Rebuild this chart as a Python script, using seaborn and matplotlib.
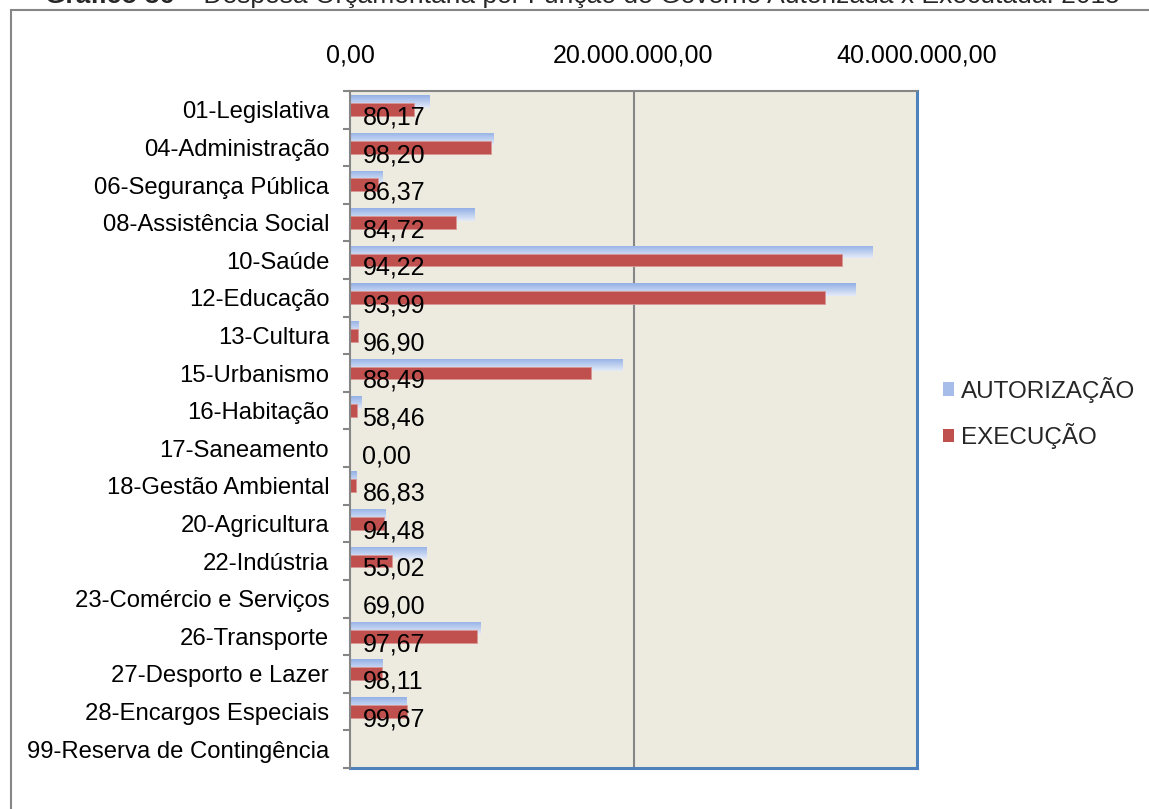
import numpy as np
import pandas as pd
import matplotlib
matplotlib.use("Agg")
import matplotlib.pyplot as plt
import seaborn as sns
from matplotlib.patches import Patch, Rectangle
from matplotlib.ticker import FuncFormatter, FixedLocator
from matplotlib.colors import LinearSegmentedColormap

# ---------------- data ----------------
funcoes = ["01-Legislativa", "04-Administração", "06-Segurança Pública",
           "08-Assistência Social", "10-Saúde", "12-Educação", "13-Cultura",
           "15-Urbanismo", "16-Habitação", "17-Saneamento",
           "18-Gestão Ambiental", "20-Agricultura", "22-Indústria",
           "23-Comércio e Serviços", "26-Transporte", "27-Desporto e Lazer",
           "28-Encargos Especiais", "99-Reserva de Contingência"]
autorizacao = [5.59e6, 10.15e6, 2.32e6, 8.80e6, 36.84e6, 35.65e6, 0.565e6,
               19.20e6, 0.83e6, 0.02e6, 0.48e6, 2.53e6, 5.37e6, 0.03e6,
               9.18e6, 2.27e6, 4.02e6, 0.0]
execucao = [4.48e6, 9.97e6, 2.00e6, 7.46e6, 34.71e6, 33.51e6, 0.547e6,
            16.99e6, 0.485e6, 0.0, 0.417e6, 2.39e6, 2.955e6, 0.0207e6,
            8.97e6, 2.23e6, 4.01e6, 0.0]
percentuais = ["80,17", "98,20", "86,37", "84,72", "94,22", "93,99", "96,90",
               "88,49", "58,46", "0,00", "86,83", "94,48", "55,02", "69,00",
               "97,67", "98,11", "99,67", ""]
series = ["AUTORIZAÇÃO", "EXECUÇÃO"]
xticks = [0, 20e6, 40e6]
titulo_bold = "Gráfico 36"
titulo_resto = " – Despesa Orçamentária por Função de Governo Autorizada x Executada: 2015"

# ---------------- style ----------------
sns.set_style("white")
plt.rcParams['font.family'] = ['Liberation Sans', 'DejaVu Sans']

W, H = 1149, 809
fig = plt.figure(figsize=(W / 100, H / 100), dpi=100)
fig.patch.set_facecolor("white")

left, right, top, bottom = 350, 917, 91, 768
ax = fig.add_axes([left / W, (H - bottom) / H, (right - left) / W, (bottom - top) / H])
ax.set_facecolor("#EDEBE0")

df = pd.DataFrame({
    "Função": funcoes * 2,
    "Tipo": [series[0]] * len(funcoes) + [series[1]] * len(funcoes),
    "Valor": autorizacao + execucao,
})

blue_flat = "#A6BDE9"
red = "#C0504D"
sns.barplot(data=df, y="Função", x="Valor", hue="Tipo", hue_order=series,
            order=funcoes, orient="h", palette=[blue_flat, red], dodge=True,
            width=0.8, legend=False, ax=ax, linewidth=0, saturation=1)

# re-position bars (overlapping like the original)
blue_cont, red_cont = ax.containers[0], ax.containers[1]
cmap = LinearSegmentedColormap.from_list("g", ["#93B0E6", "#E4EBF8"])
grad = np.linspace(0, 1, 64).reshape(-1, 1)
for i, p in enumerate(blue_cont):
    p.set_y(i - 0.385)
    p.set_height(0.33)
    p.set_zorder(2)
    p.set_facecolor("none")
    x0, w = p.get_x(), p.get_width()
    if w > 0:
        im = ax.imshow(grad, extent=(x0, x0 + w, i - 0.385 + 0.33, i - 0.385),
                       origin="upper", aspect="auto", cmap=cmap, zorder=2,
                       interpolation="bilinear")
        im.set_clip_path(p)
for i, p in enumerate(red_cont):
    p.set_y(i - 0.175)
    p.set_height(0.34)
    p.set_zorder(3)
    p.set_edgecolor("#D99694")
    p.set_linewidth(0.6)

ax.set_xlim(0, 40e6)
ax.set_ylim(len(funcoes) - 0.5, -0.5)

# value labels
for i, txt in enumerate(percentuais):
    if txt:
        ax.text(0.022, i + 0.205, txt, transform=ax.get_yaxis_transform(),
                fontsize=18, va="center", ha="left", color="black", zorder=5)

# x axis on top
ax.xaxis.tick_top()
ax.xaxis.set_major_locator(FixedLocator(xticks))
ax.xaxis.set_major_formatter(FuncFormatter(
    lambda v, pos: f"{v:,.2f}".replace(",", "X").replace(".", ",").replace("X", ".")))
ax.tick_params(axis="x", which="both", length=0, pad=17, labelsize=18, colors="black")
ax.set_xlabel("")
ax.set_ylabel("")

# vertical gridline at 20M
ax.axvline(20e6, color="#868686", lw=1.5, zorder=1)

# y ticks
ax.yaxis.set_major_locator(FixedLocator(range(len(funcoes))))
ax.set_yticklabels(funcoes)
ax.yaxis.set_minor_locator(FixedLocator(np.arange(-0.5, len(funcoes), 1.0)))
ax.tick_params(axis="y", which="major", length=0, pad=15, labelsize=17.2, colors="black")
ax.tick_params(axis="y", which="minor", length=5, width=1.5, color="#868686", direction="out", left=True)

for s in ["left", "top"]:
    ax.spines[s].set_color("#868686")
    ax.spines[s].set_linewidth(1.5)
for s in ["right", "bottom"]:
    ax.spines[s].set_color("#4F81BD")
    ax.spines[s].set_linewidth(2.2)
    ax.spines[s].set_visible(True)
ax.spines["left"].set_zorder(6)

# legend
handles = [Patch(facecolor=blue_flat, edgecolor="none", label=series[0]),
           Patch(facecolor=red, edgecolor="none", label=series[1])]
fig.legend(handles=handles, loc="center left", bbox_to_anchor=(943 / W, 1 - 413 / H),
           frameon=False, fontsize=17.5, handlelength=0.45, handleheight=0.45,
           handletextpad=0.3, labelspacing=0.85, borderaxespad=0, borderpad=0)

# outer border
fig.patches.append(Rectangle((11 / W, -0.1), 1.5, (H - 10) / H + 0.1,
                             transform=fig.transFigure, fill=False,
                             edgecolor="#868686", lw=1.5, clip_on=False))

# title (partially cut off at top)
renderer = fig.canvas.get_renderer()
t1 = fig.text(45 / W, 1 - 3 / H, titulo_bold, fontsize=19, fontweight="bold",
              va="baseline", ha="left")
bb = t1.get_window_extent(renderer=renderer)
fig.text(bb.x1 / W, 1 - 3 / H, titulo_resto, fontsize=19, va="baseline", ha="left")

fig.savefig("out.png", dpi=100, facecolor="white")
